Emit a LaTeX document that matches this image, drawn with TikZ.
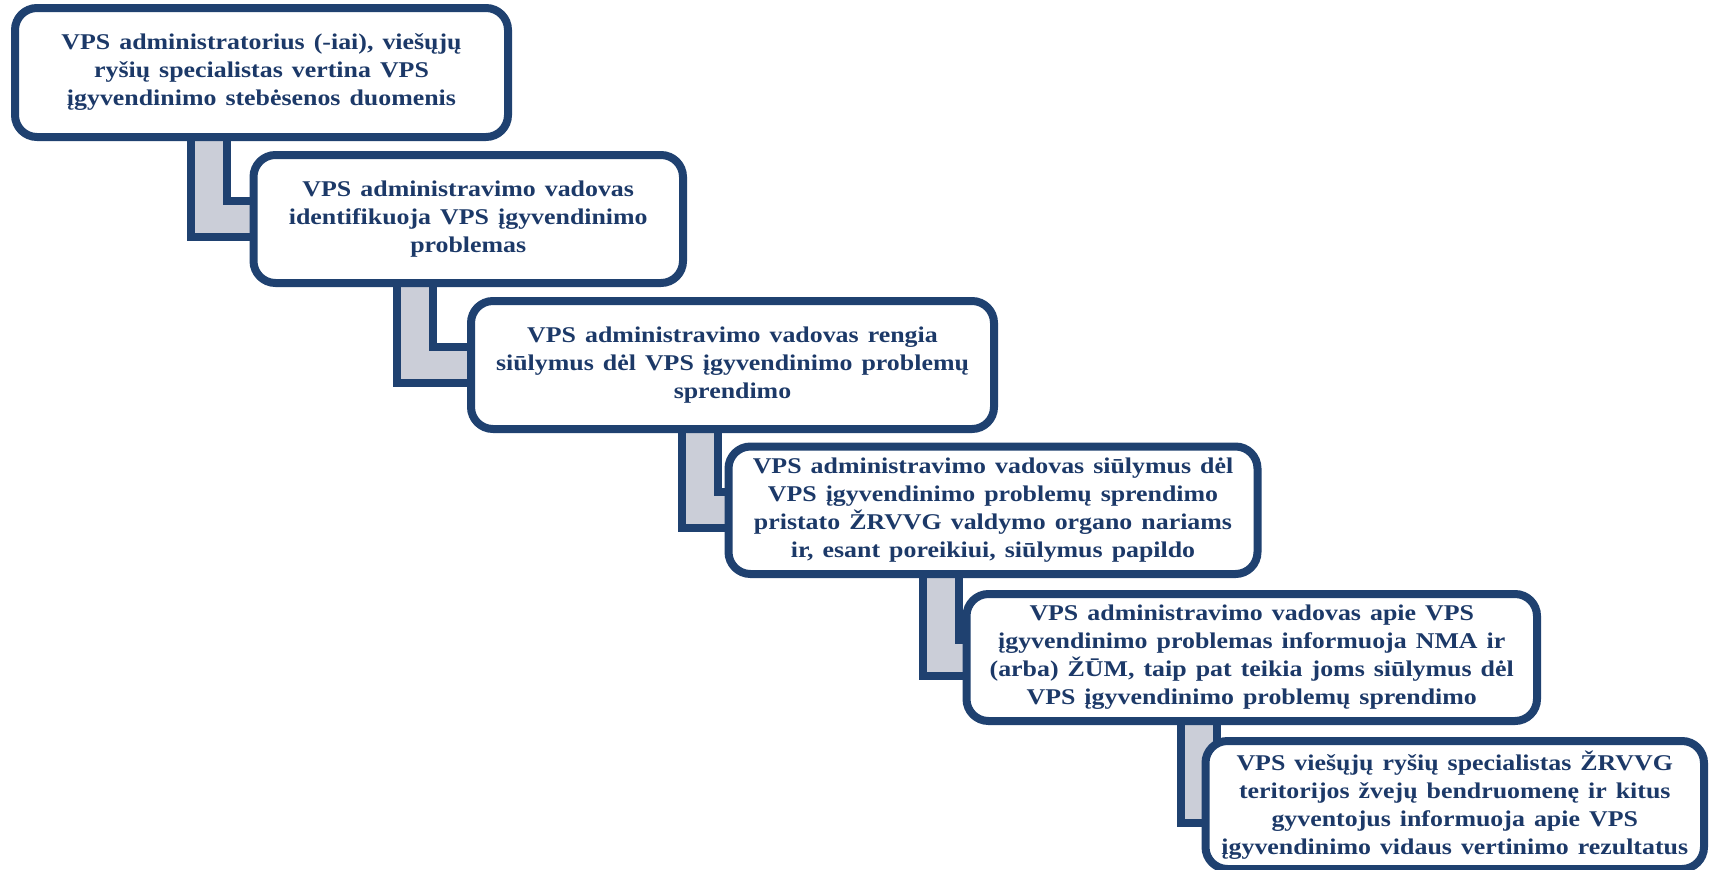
\documentclass[tikz,border=0pt]{standalone}
\usepackage{fontspec}
\setmainfont{Liberation Serif}[FakeStretch=1.15,WordSpace=1.4]
\usetikzlibrary{backgrounds,shadows}

\definecolor{framecol}{RGB}{31,65,112}
\definecolor{textcol}{RGB}{28,57,104}
\definecolor{bandcol}{RGB}{203,206,216}

\begin{document}
\begin{tikzpicture}[x=1pt,y=-1pt]
    \pgfmathsetmacro{\frameradius}{22}
    \pgfmathsetmacro{\framewidth}{8}
    \pgfmathsetmacro{\bandwidth}{28}
    \providecommand{\boxfontsize}{\fontsize{22.5}{28}\selectfont}
    \tikzset{
        stepbox/.style={draw=framecol,line width=\framewidth pt,fill=white,
            rounded corners=\frameradius pt,outer sep=0pt,inner sep=0pt,
            align=center,text=textcol,font=\boxfontsize\bfseries,
            drop shadow={shadow xshift=2pt,shadow yshift=-3pt,opacity=0.2,fill=black!60}},
        link/.style={draw=framecol,line width=\framewidth pt,double=bandcol,
            double distance=\bandwidth pt,line join=miter}
    }
    \useasboundingbox (0,0) rectangle (1709,870);
    \node[stepbox,minimum width=493pt,minimum height=129pt] (b1) at (261.5,72.5)
        {VPS administratorius (-iai), viešųjų\\ryšių specialistas vertina VPS\\įgyvendinimo stebėsenos duomenis};
    \node[stepbox,minimum width=429.5pt,minimum height=128pt] (b2) at (468.25,219)
        {VPS administravimo vadovas\\identifikuoja VPS įgyvendinimo\\problemas};
    \node[stepbox,minimum width=523pt,minimum height=128pt] (b3) at (732.5,365)
        {VPS administravimo vadovas rengia\\siūlymus dėl VPS įgyvendinimo problemų\\sprendimo};
    \node[stepbox,minimum width=529pt,minimum height=127.5pt] (b4) at (993,510.25)
        {VPS administravimo vadovas siūlymus dėl\\VPS įgyvendinimo problemų sprendimo\\pristato ŽRVVG valdymo organo nariams\\ir, esant poreikiui, siūlymus papildo};
    \node[stepbox,minimum width=570.5pt,minimum height=127pt] (b5) at (1251.75,657.5)
        {VPS administravimo vadovas apie VPS\\įgyvendinimo problemas informuoja NMA ir\\(arba) ŽŪM, taip pat teikia joms siūlymus dėl\\VPS įgyvendinimo problemų sprendimo};
    \node[stepbox,minimum width=498.5pt,minimum height=128pt] (b6) at (1454.75,805)
        {VPS viešųjų ryšių specialistas ŽRVVG\\teritorijos žvejų bendruomenę ir kitus\\gyventojus informuoja apie VPS\\įgyvendinimo vidaus vertinimo rezultatus};
    % elbow links behind the boxes
    \coordinate (k1) at (208.5,0);
    \coordinate (k2) at (415,0);
    \coordinate (k3) at (699.5,0);
    \coordinate (k4) at (940.5,0);
    \coordinate (k5) at (1198.5,0);
    \begin{scope}[on background layer]
        \draw[link] (b1.south -| k1) |- (b2.west);
        \draw[link] (b2.south -| k2) |- (b3.west);
        \draw[link] (b3.south -| k3) |- (b4.west);
        \draw[link] (b4.south -| k4) |- (b5.west);
        \draw[link] (b5.south -| k5) |- (b6.west);
    \end{scope}
\end{tikzpicture}
\end{document}
